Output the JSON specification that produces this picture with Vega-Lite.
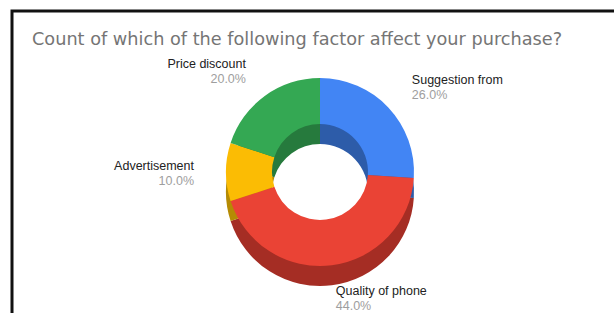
{
  "$schema": "https://vega.github.io/schema/vega-lite/v6.json",
  "autosize": {"type": "none"},
  "padding": {"left": 12, "top": 11, "right": -14, "bottom": -20},
  "width": 616,
  "height": 322,
  "background": "white",
  "config": {
    "view": {"stroke": null},
    "font": "Liberation Sans"
  },
  "title": {
    "text": "Count of which of the following factor affect your purchase?",
    "anchor": "start",
    "frame": "group",
    "orient": "top",
    "offset": -34,
    "dx": 20,
    "dy": 19,
    "baseline": "alphabetic",
    "fontSize": 17.7,
    "font": "DejaVu Sans",
    "fontWeight": "normal",
    "color": "#757575"
  },
  "data": {
    "values": [
      {"idx": 1, "factor": "Suggestion from", "count": 13, "pct": 0.26},
      {"idx": 2, "factor": "Quality of phone", "count": 22, "pct": 0.44},
      {"idx": 3, "factor": "Advertisement", "count": 5, "pct": 0.10},
      {"idx": 4, "factor": "Price discount", "count": 10, "pct": 0.20}
    ]
  },
  "layer": [
    {
      "data": {"values": [{}]},
      "mark": {"type": "rect", "fill": null, "stroke": "#111111", "strokeWidth": 3},
      "encoding": {
        "x": {"value": 0},
        "y": {"value": 0},
        "x2": {"value": {"expr": "width"}},
        "y2": {"value": {"expr": "height"}}
      }
    },
    {
      "mark": {"type": "arc", "outerRadius": 94, "innerRadius": 48, "yOffset": 20},
      "encoding": {
        "theta": {"field": "count", "type": "quantitative", "stack": true},
        "order": {"field": "idx", "type": "quantitative"},
        "color": {
          "field": "factor", "type": "nominal", "legend": null,
          "scale": {
            "domain": ["Suggestion from", "Quality of phone", "Advertisement", "Price discount"],
            "range": ["#2d5ca9", "#a52d24", "#b58b04", "#267a3d"]
          }
        }
      }
    },
    {
      "mark": {"type": "arc", "outerRadius": 94, "innerRadius": 48},
      "encoding": {
        "theta": {"field": "count", "type": "quantitative", "stack": true},
        "order": {"field": "idx", "type": "quantitative"},
        "color": {
          "field": "factor", "type": "nominal", "legend": null,
          "scale": {
            "domain": ["Suggestion from", "Quality of phone", "Advertisement", "Price discount"],
            "range": ["#4285f4", "#ea4335", "#fbbc04", "#34a853"]
          }
        }
      }
    },
    {
      "mark": {"type": "text", "radius": 126, "align": "left", "dy": -6, "fontSize": 12.5, "color": "#222222"},
      "encoding": {
        "theta": {"field": "count", "type": "quantitative", "stack": true},
        "order": {"field": "idx", "type": "quantitative"},
        "text": {"condition": {"test": "datum.idx <= 2", "field": "factor"}, "value": ""}
      }
    },
    {
      "mark": {"type": "text", "radius": 126, "align": "left", "dy": 9, "fontSize": 12.5, "color": "#9e9e9e"},
      "encoding": {
        "theta": {"field": "count", "type": "quantitative", "stack": true},
        "order": {"field": "idx", "type": "quantitative"},
        "text": {"condition": {"test": "datum.idx <= 2", "field": "pct", "format": ".1%"}, "value": ""}
      }
    },
    {
      "mark": {"type": "text", "radius": 126, "align": "right", "dy": -6, "fontSize": 12.5, "color": "#222222"},
      "encoding": {
        "theta": {"field": "count", "type": "quantitative", "stack": true},
        "order": {"field": "idx", "type": "quantitative"},
        "text": {"condition": {"test": "datum.idx > 2", "field": "factor"}, "value": ""}
      }
    },
    {
      "mark": {"type": "text", "radius": 126, "align": "right", "dy": 9, "fontSize": 12.5, "color": "#9e9e9e"},
      "encoding": {
        "theta": {"field": "count", "type": "quantitative", "stack": true},
        "order": {"field": "idx", "type": "quantitative"},
        "text": {"condition": {"test": "datum.idx > 2", "field": "pct", "format": ".1%"}, "value": ""}
      }
    }
  ],
  "resolve": {"scale": {"color": "independent"}}
}
